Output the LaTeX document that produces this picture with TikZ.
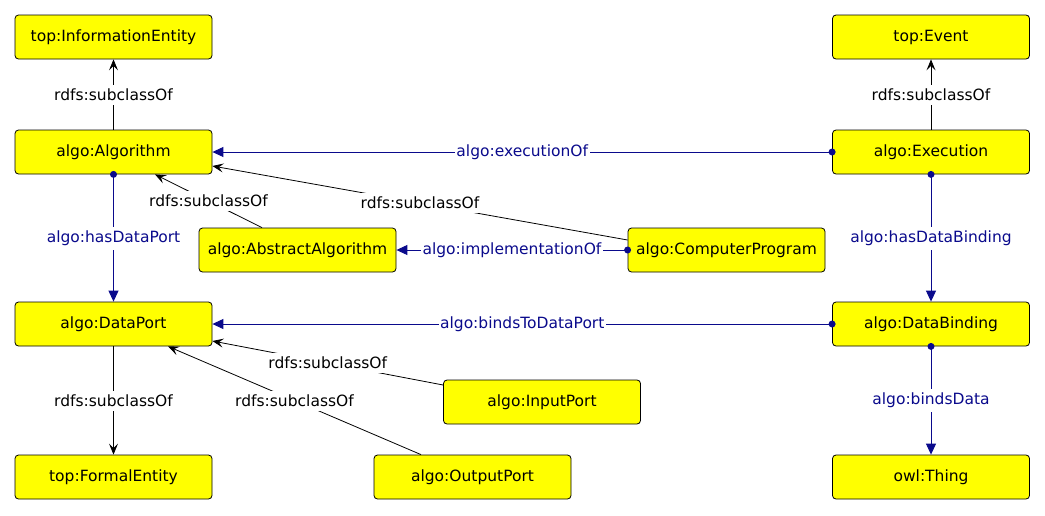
\documentclass[tikz,border=0pt]{standalone}
\usepackage{fontspec}
\setmainfont{DejaVu Sans}
\usetikzlibrary{arrows.meta,calc}
\definecolor{navyblue}{RGB}{10,10,140}
\definecolor{boxyellow}{RGB}{255,255,0}
\begin{document}
\begin{tikzpicture}[x=1pt,y=-1pt,
  cls/.style={draw=black, line width=0.8pt, fill=boxyellow, rounded corners=3.5pt,
    minimum width=197pt, minimum height=44pt, inner sep=0pt,
    font=\fontsize{15.5}{18}\selectfont},
  sub/.style={draw=black, line width=0.8pt, -{Stealth[length=11pt,width=9pt,inset=4.5pt]}},
  assoc/.style={draw=navyblue, line width=1pt, -{Triangle[length=11pt,width=10pt]}},
  sublbl/.style={fill=white, text=black, inner xsep=1.5pt, inner ysep=4pt, font=\fontsize{15.5}{18}\selectfont},
  assoclbl/.style={fill=white, text=navyblue, inner xsep=1.5pt, inner ysep=4pt, font=\fontsize{15.5}{18}\selectfont},
  dot/.style={circle, fill=navyblue, inner sep=0pt, minimum size=7pt}
]
\useasboundingbox (0,0) rectangle (1045,515);
\fill[white] (0,0) rectangle (1045,515);

% nodes
\node[cls] (infent) at (113.5,37) {top:InformationEntity};
\node[cls] (alg) at (113.5,152) {algo:Algorithm};
\node[cls] (absalg) at (297.5,250) {algo:AbstractAlgorithm};
\node[cls] (cp) at (726.5,250) {algo:ComputerProgram};
\node[cls] (event) at (931,37) {top:Event};
\node[cls] (exec) at (931,152) {algo:Execution};
\node[cls] (db) at (931,324) {algo:DataBinding};
\node[cls] (thing) at (931,477) {owl:Thing};
\node[cls] (dp) at (113.5,324) {algo:DataPort};
\node[cls] (formal) at (113.5,477) {top:FormalEntity};
\node[cls] (ip) at (542,402) {algo:InputPort};
\node[cls] (op) at (472.5,477) {algo:OutputPort};

% subclass edges
\draw[sub] (alg.north) -- node[sublbl] {rdfs:subclassOf} (infent.south);
\draw[sub] (exec.north) -- node[sublbl] {rdfs:subclassOf} (event.south);
\draw[sub] ([xshift=-35.5pt]absalg.north) -- node[sublbl] {rdfs:subclassOf} ([xshift=41.5pt]alg.south);
\draw[sub] ([yshift=10pt]cp.west) -- node[sublbl] {rdfs:subclassOf} ([yshift=-14pt]alg.east);
\draw[sub] (dp.south) -- node[sublbl] {rdfs:subclassOf} (formal.north);
\draw[sub] ([yshift=17pt]ip.west) -- node[sublbl] {rdfs:subclassOf} ([yshift=-17pt]dp.east);
\draw[sub] ([xshift=-51.5pt]op.north) -- node[sublbl] {rdfs:subclassOf} ([xshift=54.5pt]dp.south);

% association edges
\draw[assoc] (exec.west) -- node[assoclbl] {algo:executionOf} (alg.east);
\draw[assoc] (cp.west) -- node[assoclbl] {algo:implementationOf} (absalg.east);
\draw[assoc] (alg.south) -- node[assoclbl] {algo:hasDataPort} (dp.north);
\draw[assoc] (exec.south) -- node[assoclbl] {algo:hasDataBinding} (db.north);
\draw[assoc] (db.west) -- node[assoclbl] {algo:bindsToDataPort} (dp.east);
\draw[assoc] (db.south) -- node[assoclbl] {algo:bindsData} (thing.north);

% source dots
\node[dot] at (exec.west) {};
\node[dot] at (cp.west) {};
\node[dot] at (alg.south) {};
\node[dot] at (exec.south) {};
\node[dot] at (db.west) {};
\node[dot] at (db.south) {};
\end{tikzpicture}
\end{document}
